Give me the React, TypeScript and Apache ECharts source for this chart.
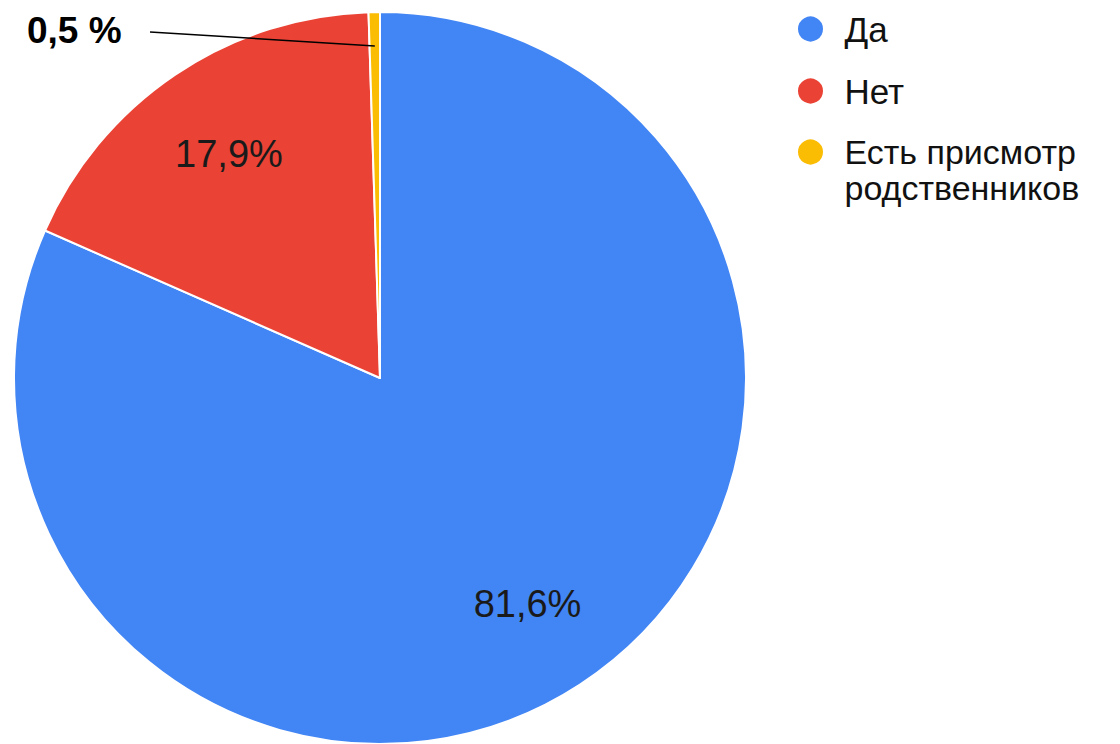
import React, { useEffect, useRef } from "react";
import * as echarts from "echarts";

const categories = ["Да", "Нет", "Есть присмотр родственников"];
const values = [81.6, 17.9, 0.5];
const colors = ["#4285F4", "#EA4335", "#FBBC04"];
const labelTexts = ["81,6%", "17,9%", "0,5 %"];

const FONT = "'Liberation Sans', Arial, sans-serif";

export default function App() {
  const ref = useRef<HTMLDivElement>(null);

  useEffect(() => {
    document.body.style.margin = "0";
    const chart = echarts.init(ref.current!, undefined, { renderer: "svg" });
    const center = [380, 378];
    const R = 366;
    const anchorR = 332;

    // anchor of the connector for the smallest slice, derived from the data
    const total = values.reduce((a, b) => a + b, 0);
    const midFrac = (values[0] + values[1] + values[2] / 2) / total;
    const ang = midFrac * 2 * Math.PI; // clockwise from top
    const anchor = [center[0] + anchorR * Math.sin(ang), center[1] - anchorR * Math.cos(ang)];

    const baseData = categories.map((name, i) => ({
      name,
      value: values[i],
      itemStyle: { color: colors[i] },
    }));

    chart.setOption({
      animation: false,
      backgroundColor: "#ffffff",
      legend: [
        {
          data: categories.slice(0, 2),
          orient: "vertical",
          left: 796,
          top: 9,
          padding: 0,
          itemWidth: 58,
          itemHeight: 27,
          itemGap: 22,
          icon: "circle",
          selectedMode: false,
          textStyle: { fontFamily: FONT, fontSize: 35, color: "#111", lineHeight: 40 },
        },
        {
          data: [categories[2]],
          orient: "vertical",
          left: 796,
          top: 98,
          padding: 0,
          itemWidth: 58,
          itemHeight: 27,
          icon: "circle",
          selectedMode: false,
          formatter: () => " \nЕсть присмотр\nродственников",
          textStyle: { fontFamily: FONT, fontSize: 34, color: "#111", lineHeight: 36 },
        },
      ],
      series: [
        {
          type: "pie",
          name: "main",
          center,
          radius: R,
          startAngle: 90,
          clockwise: true,
          silent: true,
          label: { show: false },
          labelLine: { show: false },
          itemStyle: { borderColor: "#ffffff", borderWidth: 2 },
          data: baseData,
        },
        {
          type: "pie",
          name: "inner-labels",
          center,
          radius: [168, R],
          startAngle: 90,
          clockwise: true,
          silent: true,
          itemStyle: { color: "transparent", borderWidth: 0 },
          label: {
            show: true,
            position: "inside",
            fontFamily: FONT,
            fontSize: 38,
            color: "#1a1a1a",
            formatter: (p: any) => labelTexts[p.dataIndex],
          },
          labelLine: { show: false },
          data: categories.map((name, i) => ({
            name,
            value: values[i],
            label: { show: i < 2 },
          })),
        },
        {
          type: "pie",
          name: "annotation",
          z: 5,
          center,
          radius: anchorR,
          startAngle: 90,
          clockwise: true,
          silent: true,
          itemStyle: { color: "transparent", borderWidth: 0 },
          label: {
            show: true,
            position: "outside",
            fontFamily: FONT,
            fontSize: 37,
            fontWeight: "bold",
            color: "#000",
            formatter: (p: any) => labelTexts[p.dataIndex],
          },
          labelLine: {
            show: true,
            length: 10,
            length2: 20,
            minTurnAngle: 0,
            maxSurfaceAngle: 180,
            lineStyle: { color: "#000", width: 1.5 },
          },
          labelLayout: (p: any) =>
            p.dataIndex === 2
              ? {
                  x: 27,
                  y: 30,
                  align: "left",
                  verticalAlign: "middle",
                  labelLinePoints: [[150, 32], anchor],
                }
              : {},
          data: categories.map((name, i) => ({
            name,
            value: values[i],
            label: { show: i === 2 },
            labelLine: { show: i === 2 },
          })),
        },
      ],
    });

    return () => chart.dispose();
  }, []);

  return <div ref={ref} style={{ width: 1120, height: 744 }} />;
}
